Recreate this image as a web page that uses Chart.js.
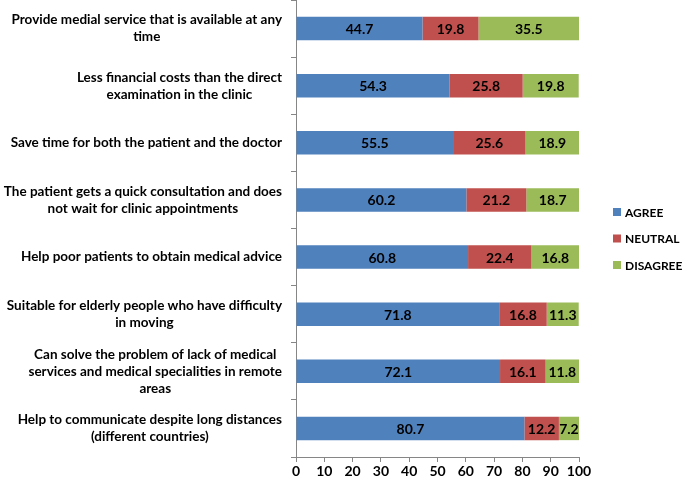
<!DOCTYPE html>
<html><head><meta charset="utf-8">
<script src="https://cdn.jsdelivr.net/npm/chart.js@4.4.1/dist/chart.umd.min.js"></script>
<style>html,body{margin:0;padding:0;background:#fff}#wrap{width:685px;height:481px;position:relative}</style>
</head><body><div id="wrap"><canvas id="c"></canvas></div>
<script>
const categories = [
  ["Provide medial service that is available at any", "time"],
  ["Less financial costs than the direct", "examination in the clinic"],
  ["Save time for both the patient and the doctor"],
  ["The patient gets a quick consultation and does", "not wait for clinic appointments"],
  ["Help poor patients to obtain medical advice"],
  ["Suitable for elderly people who have difficulty", "in moving"],
  ["Can solve the problem of lack of medical", "services and medical specialities in remote", "areas"],
  ["Help to communicate despite long distances", "(different countries)"]
];
const seriesNames = ["AGREE", "NEUTRAL", "DISAGREE"];
const agree    = [44.7, 54.3, 55.5, 60.2, 60.8, 71.8, 72.1, 80.7];
const neutral  = [19.8, 25.8, 25.6, 21.2, 22.4, 16.8, 16.1, 12.2];
const disagree = [35.5, 19.8, 18.9, 18.7, 16.8, 11.3, 11.8, 7.2];
const xTicks = [0, 10, 20, 30, 40, 50, 60, 70, 80, 90, 100];

const colors = ["#4F81BD", "#C0504D", "#9BBB59"];
const FONT = "Lato, 'Open Sans', sans-serif";

const catLabelPlugin = {
  id: 'catLabels',
  afterDraw(chart) {
    const ctx = chart.ctx, y = chart.scales.y;
    ctx.save();
    ctx.font = "bold 13.5px " + FONT;
    ctx.fillStyle = "#000";
    ctx.textBaseline = "middle";
    ctx.textAlign = "center";
    const lh = 17;
    categories.forEach((lines, i) => {
      const cy = y.getPixelForValue(i);
      const w = Math.max(...lines.map(l => ctx.measureText(l).width));
      const cx = y.right - 14 - w / 2;
      const y0 = cy - (lines.length - 1) * lh / 2;
      lines.forEach((l, k) => ctx.fillText(l, cx, y0 + k * lh));
    });
    ctx.restore();
  }
};

const valueLabelPlugin = {
  id: 'valueLabels',
  afterDatasetsDraw(chart) {
    const ctx = chart.ctx;
    ctx.save();
    ctx.font = "bold 14px " + FONT;
    ctx.fillStyle = "#000";
    ctx.textAlign = "center";
    ctx.textBaseline = "middle";
    chart.data.datasets.forEach((ds, di) => {
      const meta = chart.getDatasetMeta(di);
      meta.data.forEach((bar, i) => {
        const p = bar.getProps(['x', 'y', 'base'], true);
        const right = Math.min(p.x, chart.chartArea.right);
        ctx.fillText(ds.data[i].toFixed(1), (right + p.base) / 2, p.y + 1);
      });
    });
    ctx.restore();
  }
};

const legendPlugin = {
  id: 'sideLegend',
  afterDraw(chart) {
    const ctx = chart.ctx;
    ctx.save();
    ctx.font = "bold 12px " + FONT;
    ctx.textBaseline = "middle";
    ctx.textAlign = "left";
    const x0 = chart.chartArea.right + 34;
    const cy = (chart.chartArea.top + chart.chartArea.bottom) / 2 + 10;
    chart.data.datasets.forEach((ds, i) => {
      const yy = cy + (i - 1) * 26.5;
      ctx.fillStyle = ds.backgroundColor;
      ctx.fillRect(x0, yy - 4, 8, 8);
      ctx.fillStyle = "#000";
      ctx.fillText(ds.label, x0 + 12, yy + 1);
    });
    ctx.restore();
  }
};

new Chart(document.getElementById('c'), {
  type: 'bar',
  data: {
    labels: categories,
    datasets: [
      { label: seriesNames[0], data: agree, backgroundColor: colors[0] },
      { label: seriesNames[1], data: neutral, backgroundColor: colors[1] },
      { label: seriesNames[2], data: disagree, backgroundColor: colors[2] }
    ]
  },
  options: {
    indexAxis: 'y',
    responsive: true,
    maintainAspectRatio: false,
    animation: false,
    devicePixelRatio: 1,
    layout: { padding: { top: 0, right: 106, left: 0, bottom: 0 } },
    datasets: { bar: { categoryPercentage: 1, barPercentage: 0.41 } },
    plugins: { legend: { display: false }, tooltip: { enabled: false } },
    scales: {
      x: {
        stacked: true, min: 0, max: 100,
        afterBuildTicks: s => { s.ticks = xTicks.map(v => ({ value: v })); },
        afterFit: s => { s.height = 24; },
        ticks: { font: { family: FONT, size: 14, weight: 'bold' }, color: '#000', padding: 1, maxRotation: 0 },
        grid: { drawOnChartArea: false, drawTicks: true, tickLength: 5, color: '#868686' },
        border: { color: '#868686' }
      },
      y: {
        stacked: true,
        afterFit: s => { s.width = 296; },
        ticks: { display: false },
        grid: { drawOnChartArea: false, drawTicks: true, tickLength: 5, color: '#868686', offset: true },
        border: { color: '#868686' }
      }
    }
  },
  plugins: [catLabelPlugin, valueLabelPlugin, legendPlugin]
});
</script></body></html>
